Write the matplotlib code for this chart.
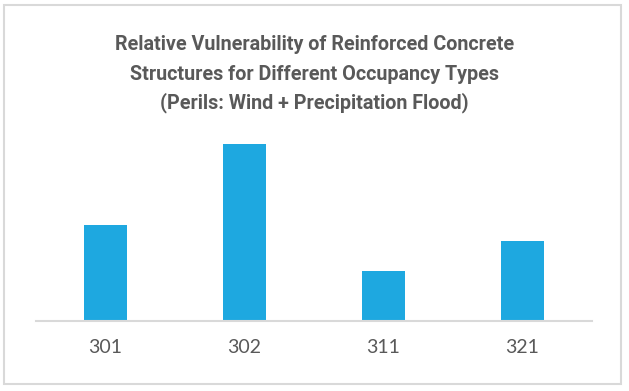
import matplotlib
matplotlib.use("Agg")
import matplotlib.pyplot as plt
from matplotlib.patches import Rectangle

# occupancy types and relative vulnerability
occupancy = ["301", "302", "311", "321"]
vulnerability = [0.54, 1.0, 0.28, 0.45]

title_lines = ["Relative Vulnerability of Reinforced Concrete",
               "Structures for Different Occupancy Types",
               "(Perils: Wind + Precipitation Flood)"]

bar_color = "#1EA8E0"
text_color = "#595959"
grid_color = "#D9D9D9"

fig = plt.figure(figsize=(6.29, 3.91), dpi=100)
W, H = 629, 391

# chart border
fig.patches.append(Rectangle((4 / W, 1 - 384 / H), 617 / W, 379 / H,
                             transform=fig.transFigure, fill=False,
                             edgecolor=grid_color, linewidth=1.5))

# title, line by line
for i, line in enumerate(title_lines):
    fig.text(0.5, 1 - (45 + 29 * i) / H, line, ha="center", va="center",
             fontsize=14.2, fontweight="bold", color=text_color,
             family="Roboto")

ax = fig.add_axes([36 / W, 1 - 321 / H, 556 / W, 191 / H])
x = range(len(occupancy))
ax.bar(x, vulnerability, width=0.316, color=bar_color, zorder=2)
ax.set_xlim(-0.5, len(occupancy) - 0.5)
ax.set_ylim(0, 191 / 177)
ax.set_xticks(list(x))
ax.set_xticklabels(occupancy, fontsize=14, color=text_color, family="Lato")
ax.tick_params(axis="x", length=0, pad=13)
ax.set_yticks([])
for s in ["top", "right", "left"]:
    ax.spines[s].set_visible(False)
ax.spines["bottom"].set_color(grid_color)
ax.spines["bottom"].set_linewidth(1.5)

fig.savefig("out.png", dpi=100)
